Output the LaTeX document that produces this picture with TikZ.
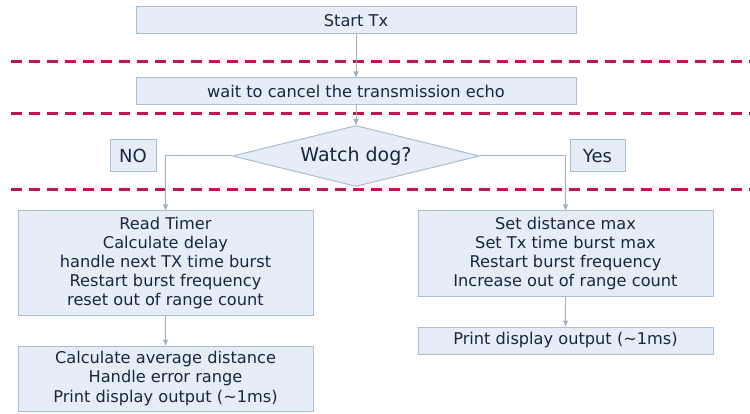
\documentclass[tikz,border=0pt]{standalone}
\usepackage{fontspec}
\setmainfont{DejaVu Sans}
\usepackage{tikz}
\usetikzlibrary{arrows.meta, positioning, shapes.geometric}

\definecolor{boxfill}{HTML}{E5EDF6}
\definecolor{boxline}{HTML}{A9BED3}
\definecolor{flowline}{HTML}{9FB3C8}
\definecolor{sepred}{HTML}{C0164A}
\definecolor{txt}{HTML}{1A2540}

\tikzset{
  stepbox/.style={rectangle, draw=boxline, fill=boxfill, line width=1pt,
    text=txt, align=center, minimum width=440pt, minimum height=27pt,
    inner sep=2pt, font=\fontsize{16.2}{19.2}\selectfont},
  decision/.style={diamond, draw=boxline, fill=boxfill, line width=1pt,
    text=txt, aspect=4, inner sep=0pt, minimum width=247pt, minimum height=61pt,
    font=\fontsize{19}{22}\selectfont},
  answer/.style={rectangle, draw=boxline, fill=boxfill, line width=1pt,
    text=txt, minimum height=32pt, inner sep=2pt, font=\fontsize{18}{21}\selectfont},
  flow/.style={draw=flowline, line width=1pt, -{Triangle[length=6pt,width=5pt]}},
  separator/.style={draw=sepred, line width=3pt, dash pattern=on 11pt off 7pt}
}

\begin{document}
\begin{tikzpicture}[x=1pt, y=-1pt]
  \useasboundingbox (0,0) rectangle (750,414);

  % phase separators
  \draw[separator] (11,62) -- (750,62);
  \draw[separator] (11,114) -- (750,114);
  \draw[separator] (11,190) -- (750,190);

  \node[stepbox] (start) at (356,20.5) {Start Tx};
  \node[stepbox] (wait) at (356,91.5) {wait to cancel the transmission echo};
  \node[decision] (dog) at (356,156) {Watch dog?};

  \node[answer, minimum width=46pt] (no) at (133,156) {NO};
  \node[answer, minimum width=55pt] (yes) at (597.5,156) {Yes};

  \node[stepbox, minimum width=295pt, minimum height=104pt] (read) at (165.5,263)
    {Read Timer\\Calculate delay\\handle next TX time burst\\Restart burst frequency\\reset out of range count};
  \node[stepbox, minimum width=295pt, minimum height=65pt] (avg) at (165.5,378.5)
    {Calculate average distance\\Handle error range\\Print display output (\textasciitilde1ms)};

  \node[stepbox, minimum width=295pt, minimum height=85pt] (setmax) at (565.5,253.5)
    {Set distance max\\Set Tx time burst max\\Restart burst frequency\\Increase out of range count};
  \node[stepbox, minimum width=295pt] (print) at (565.5,340.5)
    {Print display output (\textasciitilde1ms)};

  \draw[flow] (start) -- (wait);
  \draw[flow] (wait) -- (dog);
  \draw[flow] (dog.west) -| (read.north);
  \draw[flow] (dog.east) -| (setmax.north);
  \draw[flow] (read) -- (avg);
  \draw[flow] (setmax) -- (print);
\end{tikzpicture}
\end{document}
